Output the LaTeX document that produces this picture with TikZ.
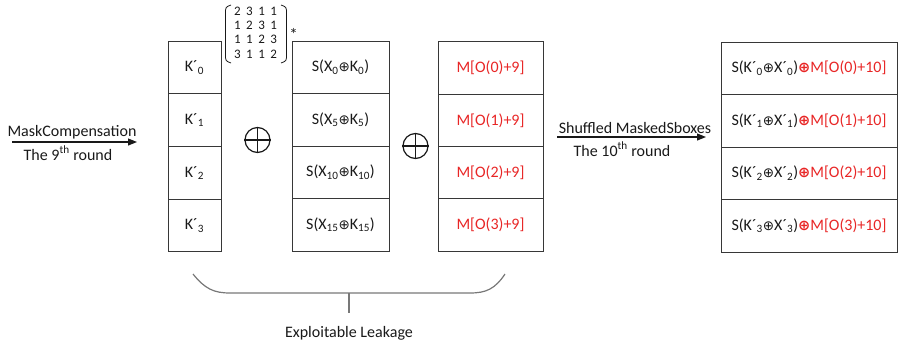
\documentclass[tikz,border=0pt]{standalone}
\usepackage{fontspec}
\setmainfont{Carlito}
\newfontfamily\symfont{DejaVu Sans}
\usetikzlibrary{arrows.meta}

\definecolor{ink}{RGB}{25,25,25}
\definecolor{linegray}{RGB}{55,55,55}
\definecolor{bracegray}{RGB}{120,120,120}
\definecolor{maskred}{RGB}{232,38,38}

% circled plus inside the cell texts
\newcommand{\xo}{{\symfont\fontsize{13.5}{13.5}\selectfont ⊕}}
\newcommand{\xob}{{\symfont\bfseries\fontsize{14.5}{14.5}\selectfont ⊕}}
\newcommand{\lowidx}[1]{\textsubscript{#1}}

\begin{document}
\begin{tikzpicture}[x=1pt,y=-1pt,
  font=\fontsize{16}{19}\selectfont,
  cell/.style={draw=linegray, line width=1pt, inner sep=0pt, outer sep=0pt,
    text=ink, minimum height=52.6pt},
  kcell/.style={cell, minimum width=53pt},
  scell/.style={cell, minimum width=97pt},
  mcell/.style={cell, minimum width=105pt, text=maskred},
  fcell/.style={cell, minimum width=176pt},
  label/.style={text=ink, anchor=base, inner sep=0pt},
  flow/.style={draw=ink, line width=1.1pt, -{Triangle[length=9pt,width=7pt]}},
  xorsym/.style={circle, draw=ink, line width=1.2pt, minimum size=25pt, inner sep=0pt},
  brace/.style={draw=bracegray, line width=1.2pt}
]
\useasboundingbox (0,0) rectangle (898,346);

% key column
\foreach \i/\y in {0/67.4, 1/120.1, 2/172.9, 3/225.6}
  \node[kcell] (k\i) at (194.5,\y) {K´\lowidx{\i}};

% S-box outputs of round 9
\foreach \i/\s/\y in {0/0/67.3, 1/5/119.8, 2/10/172.3, 3/15/224.8}
  \node[scell] (s\i) at (340.5,\y) {S(X\lowidx{\s}\xo K\lowidx{\s})};

% mask column
\foreach \i/\y in {0/68.1, 1/120.4, 2/172.6, 3/224.9}
  \node[mcell] (m\i) at (490.5,\y) {M[O(\i)+9]};

% round 10 values
\foreach \i/\y in {0/68.3, 1/120.8, 2/173.3, 3/225.8}
  \node[fcell] (f\i) at (809,\y) {S(K´\lowidx{\i}\xo X´\lowidx{\i}){\color{maskred}\xob M[O(\i)+10]}};

% MixColumns matrix
\node[text=ink, inner sep=0pt, font=\fontsize{13}{14}\selectfont]
  (mat) at (255.5,34) {\renewcommand{\arraystretch}{1.02}%
  \begin{tabular}{@{}c@{\hspace{5.5pt}}c@{\hspace{5.5pt}}c@{\hspace{5.5pt}}c@{}}
  2&3&1&1\\1&2&3&1\\1&1&2&3\\3&1&1&2\end{tabular}};
\draw[draw=ink, line width=0.8pt]
  (231,5) .. controls (225.5,7) .. (225.5,14) -- (225.5,54) .. controls (225.5,61) .. (231,63);
\draw[draw=ink, line width=0.8pt]
  (281,5) .. controls (286.5,7) .. (286.5,14) -- (286.5,54) .. controls (286.5,61) .. (281,63);
\node[text=ink, inner sep=0pt, font=\fontsize{17}{17}\selectfont] (star) at (293.5,34) {*};

% XOR operators
\node[xorsym] (op1) at (257.5,140) {};
\draw[draw=ink, line width=1.2pt] (op1.north) -- (op1.south) (op1.west) -- (op1.east);
\node[xorsym] (op2) at (415.5,146) {};
\draw[draw=ink, line width=1.2pt] (op2.north) -- (op2.south) (op2.west) -- (op2.east);

% incoming arrow
\coordinate (in0) at (12,142);
\coordinate (in1) at (137,142);
\draw[flow] (in0) -- (in1);
\node[label] (t1) at (72,136) {MaskCompensation};
\node[label] (t2) at (68,160) {The 9\textsuperscript{th} round};

% arrow towards round 10
\coordinate (mid0) at (557,137);
\coordinate (mid1) at (706,137);
\draw[flow] (mid0) -- (mid1);
\node[label] (t3) at (635,133) {Shuffled MaskedSboxes};
\node[label] (t4) at (622,156) {The 10\textsuperscript{th} round};

% brace under the leaking columns
\draw[brace] (193,274) .. controls (205,289) and (214,293) .. (230,293)
  -- (470,293) .. controls (486,293) and (495,289) .. (505,274);
\coordinate (bmid) at (349,293);
\coordinate (bend) at (349,313);
\draw[brace] (bmid) -- (bend);
\node[label] (leak) at (349,337) {Exploitable Leakage};
\end{tikzpicture}
\end{document}
